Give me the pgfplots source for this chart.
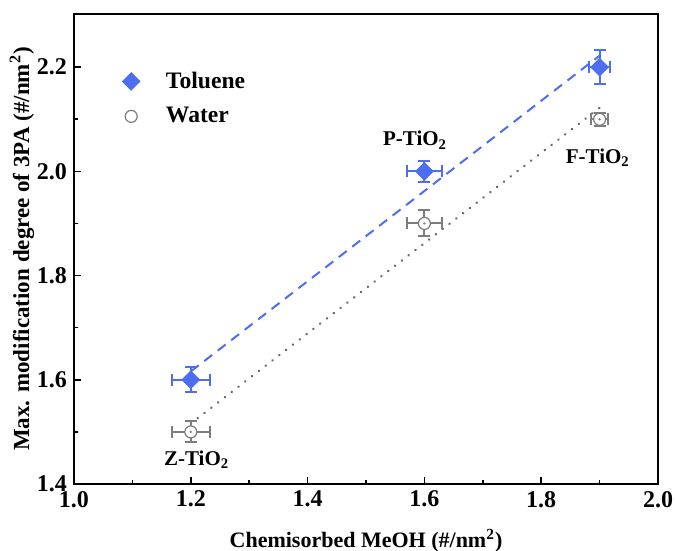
\documentclass[border=0pt]{standalone}
\usepackage{fontspec}
\setmainfont{Liberation Serif}
\usepackage{pgfplots}
\pgfplotsset{compat=1.18}
\definecolor{tolblue}{RGB}{77,110,240}
\definecolor{watgray}{RGB}{125,125,125}
\definecolor{fitgray}{RGB}{105,105,105}

\begin{document}
\begin{tikzpicture}
\begin{axis}[
    scale only axis,
    width=292pt, height=235pt,
    xmin=1.0, xmax=2.0,
    ymin=1.4, ymax=2.302,
    xtick={1.0,1.2,...,2.0},
    ytick={1.4,1.6,...,2.2},
    minor tick num=1,
    tick align=inside,
    xtick pos=bottom, ytick pos=left,
    major tick length=3.5pt, minor tick length=2pt,
    axis line style={line width=1pt},
    every tick/.style={line width=0.8pt, black},
    /pgf/number format/assume math mode=true,
    /pgf/number format/fixed, /pgf/number format/fixed zerofill,
    /pgf/number format/precision=1,
    tick label style={font=\fontsize{12}{14}\selectfont\bfseries},
    xlabel={Chemisorbed MeOH (\#/nm\textsuperscript{2})},
    ylabel={Max. modification degree of 3PA (\#/nm\textsuperscript{2})},
    label style={font=\fontsize{11}{13}\selectfont\bfseries},
    xlabel style={at={(axis description cs:0.5,-0.121)}, anchor=center},
    ylabel style={at={(axis description cs:-0.089,0.5)}, anchor=center, font=\fontsize{11.5}{13}\selectfont\bfseries},
    legend style={at={(0.072,0.895)}, anchor=north west, draw=none, fill=none,
        font=\fontsize{11.8}{14}\selectfont\bfseries, row sep=4pt, column sep=11pt},
    legend cell align=left,
]
% linear fits
\addplot[tolblue, line width=1pt, dash pattern=on 5pt off 3.5pt, forget plot]
    coordinates {(1.2,1.616) (1.9,2.222)};
\addplot[fitgray, line width=1.3pt, line cap=round, dash pattern=on 0.1pt off 4.2pt, forget plot]
    coordinates {(1.2,1.516) (1.9,2.122)};
% Toluene
\addplot[tolblue, only marks, mark=square*, mark size=3.1pt, mark options={rotate=45},
    error bars/.cd, x dir=both, x explicit, y dir=both, y explicit,
    error bar style={line width=1pt, tolblue},
    error mark options={rotate=90, line width=1pt, mark size=3pt, tolblue}]
    coordinates {
    (1.2,1.6) +- (0.033,0.024)
    (1.6,2.0) +- (0.030,0.020)
    (1.9,2.2) +- (0.018,0.032)
    };
\addlegendentry{Toluene}
% Water
\addplot[watgray, only marks, mark=*, mark size=3pt,
    mark options={fill=white, line width=0.6pt},
    error bars/.cd, x dir=both, x explicit, y dir=both, y explicit,
    error bar style={line width=1pt, watgray},
    error mark options={rotate=90, line width=1pt, mark size=3pt, watgray}]
    coordinates {
    (1.2,1.5) +- (0.033,0.020)
    (1.6,1.9) +- (0.030,0.025)
    (1.9,2.1) +- (0.015,0.012)
    };
\addlegendentry{Water}
\addplot[watgray, only marks, mark=*, mark size=0.35pt, forget plot]
    coordinates {(1.2,1.5) (1.6,1.9) (1.9,2.1)};
% sample labels
\node[font=\fontsize{10.5}{12}\selectfont\bfseries] at (axis cs:1.584,2.06) {P-TiO\textsubscript{2}};
\node[font=\fontsize{10.5}{12}\selectfont\bfseries] at (axis cs:1.897,2.026) {F-TiO\textsubscript{2}};
\node[font=\fontsize{10.5}{12}\selectfont\bfseries] at (axis cs:1.21,1.446) {Z-TiO\textsubscript{2}};
\end{axis}
\pgfresetboundingbox
\path (current axis.south west) ++(-37pt,-33.5pt) rectangle ++(337.5pt,275.5pt);
\end{tikzpicture}
\end{document}
